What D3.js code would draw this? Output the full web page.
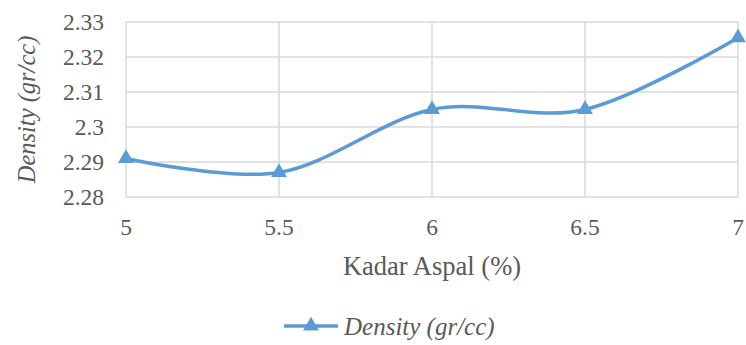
<!DOCTYPE html>
<html>
<head>
<meta charset="utf-8">
<script src="https://cdn.jsdelivr.net/npm/d3@7/dist/d3.min.js"></script>
<style>
  body { margin: 0; background: #fff; }
  #chart text { font-family: "Liberation Serif", "Times New Roman", Tinos, serif; }
</style>
</head>
<body>
<div id="chart"></div>
<script>
// data
const kadar = [5, 5.5, 6, 6.5, 7];
const density = [2.291, 2.287, 2.305, 2.305, 2.3255];
const xTicks = [5, 5.5, 6, 6.5, 7];
const yTicks = [2.28, 2.29, 2.3, 2.31, 2.32, 2.33];
const seriesName = "Density (gr/cc)";

const width = 746, height = 345;
const margin = { top: 22, right: 8, bottom: 148, left: 126 };
const blue = "#5B9BD5";
const grid = "#d9d9d9";
const textColor = "#595959";

const svg = d3.select("#chart").append("svg")
  .attr("width", width)
  .attr("height", height)
  .attr("font-family", "Liberation Serif");

const x = d3.scaleLinear().domain([5, 7]).range([margin.left, width - margin.right]);
const y = d3.scaleLinear().domain([2.28, 2.33]).range([height - margin.bottom, margin.top]);

// gridlines
svg.append("g").selectAll("line")
  .data(yTicks)
  .enter().append("line")
  .attr("x1", x(5)).attr("x2", x(7))
  .attr("y1", d => y(d)).attr("y2", d => y(d))
  .attr("stroke", grid).attr("stroke-width", 1.5);

svg.append("g").selectAll("line")
  .data(xTicks)
  .enter().append("line")
  .attr("x1", d => x(d)).attr("x2", d => x(d))
  .attr("y1", y(2.33)).attr("y2", y(2.28))
  .attr("stroke", grid).attr("stroke-width", 1.5);

// y tick labels
svg.append("g").selectAll("text")
  .data(yTicks)
  .enter().append("text")
  .attr("x", margin.left - 22)
  .attr("y", d => y(d))
  .attr("dy", "0.33em")
  .attr("text-anchor", "end")
  .attr("font-size", 23.5)
  .attr("fill", textColor)
  .text(d => d3.format("")(d));

// x tick labels
svg.append("g").selectAll("text")
  .data(xTicks)
  .enter().append("text")
  .attr("x", d => x(d))
  .attr("y", y(2.28) + 38)
  .attr("text-anchor", "middle")
  .attr("font-size", 23.5)
  .attr("fill", textColor)
  .text(d => d3.format("")(d));

// axis titles
svg.append("text")
  .attr("x", (x(5) + x(7)) / 2)
  .attr("y", 275)
  .attr("text-anchor", "middle")
  .attr("font-size", 26.5)
  .attr("fill", textColor)
  .text("Kadar Aspal (%)");

svg.append("text")
  .attr("transform", `translate(35,${(y(2.28) + y(2.33)) / 2}) rotate(-90)`)
  .attr("text-anchor", "middle")
  .attr("font-size", 24.5)
  .attr("font-style", "italic")
  .attr("fill", textColor)
  .text(seriesName);

// series
const pts = kadar.map((k, i) => ({ k, v: density[i] }));

const line = d3.line()
  .x(d => x(d.k))
  .y(d => y(d.v))
  .curve(d3.curveCardinal.tension(0));

svg.append("path")
  .datum(pts)
  .attr("d", line)
  .attr("fill", "none")
  .attr("stroke", blue)
  .attr("stroke-width", 3.5)
  .attr("stroke-linecap", "round");

const tri = d3.symbol().type(d3.symbolTriangle).size(110);

svg.append("g").selectAll("path")
  .data(pts)
  .enter().append("path")
  .attr("d", tri)
  .attr("transform", d => `translate(${x(d.k)},${y(d.v)})`)
  .attr("fill", blue);

// legend
const lg = svg.append("g").attr("transform", "translate(284,326)");
lg.append("line")
  .attr("x1", 0).attr("x2", 54)
  .attr("stroke", blue).attr("stroke-width", 3.5);
lg.append("path")
  .attr("d", tri)
  .attr("transform", "translate(27,0)")
  .attr("fill", blue);
lg.append("text")
  .attr("x", 60)
  .attr("y", 9)
  .attr("font-size", 25)
  .attr("font-style", "italic")
  .attr("fill", textColor)
  .text(seriesName);
</script>
</body>
</html>
